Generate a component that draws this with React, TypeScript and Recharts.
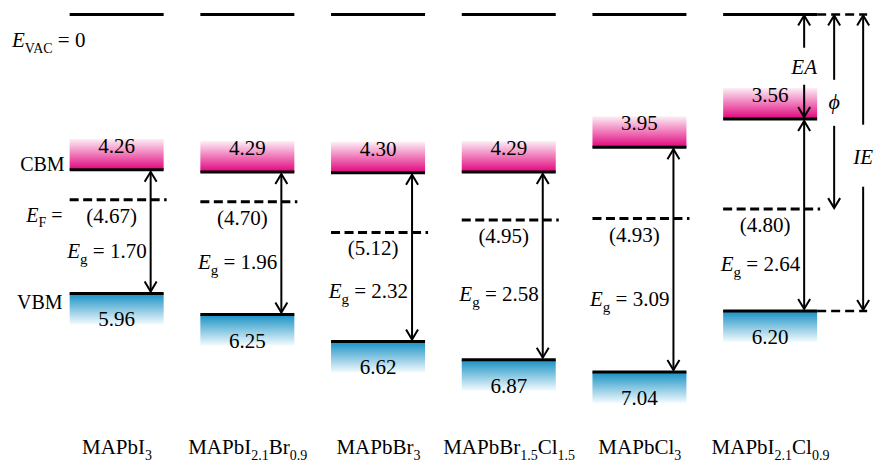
import React from 'react';
import { ComposedChart, Bar, XAxis, YAxis } from 'recharts';

// ---- data (energies in eV below vacuum) ----
const MATERIALS = [
  'MAPbI_{3}',
  'MAPbI_{2.1}Br_{0.9}',
  'MAPbBr_{3}',
  'MAPbBr_{1.5}Cl_{1.5}',
  'MAPbCl_{3}',
  'MAPbI_{2.1}Cl_{0.9}',
];
const CBM = [4.26, 4.29, 4.3, 4.29, 3.95, 3.56];
const VBM = [5.96, 6.25, 6.62, 6.87, 7.04, 6.2];
const FERMI = [4.67, 4.7, 5.12, 4.95, 4.93, 4.8];
const BANDGAP = [1.7, 1.96, 2.32, 2.58, 3.09, 2.64];

// displayed energy window (the vacuum level is drawn at the top edge: axis break)
const Y_TOP = 2.103;
const Y_BOTTOM = 7.7;

const rows = MATERIALS.map((name, i) => ({
  name,
  cbm: CBM[i],
  vbm: VBM[i],
  fermi: FERMI[i],
  eg: BANDGAP[i],
}));

const FONT = '"Liberation Serif", "Times New Roman", serif';
const TS: React.CSSProperties = { fontFamily: FONT };
const BOX_H = 31;

type Part = { t: string; sub: boolean };
function parseSub(s: string): Part[] {
  const parts: Part[] = [];
  const re = /_\{([^}]*)\}/g;
  let last = 0;
  let m: RegExpExecArray | null;
  while ((m = re.exec(s))) {
    if (m.index > last) parts.push({ t: s.slice(last, m.index), sub: false });
    parts.push({ t: m[1], sub: true });
    last = re.lastIndex;
  }
  if (last < s.length) parts.push({ t: s.slice(last), sub: false });
  return parts;
}

function spans(parts: Part[], size: number, subSize: number, shift: number, italicFirst = false) {
  let cur = 0;
  return parts.map((p, i) => {
    const target = p.sub ? shift : 0;
    const dy = target - cur;
    cur = target;
    return (
      <tspan
        key={i}
        dy={dy}
        style={{ fontFamily: FONT, fontSize: p.sub ? subSize : size, fontStyle: italicFirst && i === 0 ? 'italic' : 'normal' }}
      >
        {p.t}
      </tspan>
    );
  });
}

const Arrow = ({ x, y1, y2, up, down }: { x: number; y1: number; y2: number; up?: boolean; down?: boolean }) => (
  <g stroke="#000" strokeWidth={2} fill="none">
    <line x1={x} y1={y1} x2={x} y2={y2} />
    {up && <polyline points={`${x - 6},${y1 + 10} ${x},${y1} ${x + 6},${y1 + 10}`} />}
    {down && <polyline points={`${x - 6},${y2 - 10} ${x},${y2} ${x + 6},${y2 - 10}`} />}
  </g>
);

const T = (p: any) => {
  const { children, size = 20, italic, ...rest } = p;
  return (
    <text {...rest} fill="#000" style={{ fontFamily: FONT, fontSize: size, fontStyle: italic ? 'italic' : 'normal' }}>
      {children}
    </text>
  );
};

const LevelShape = (props: any) => {
  const { x, y, width, height, payload, index } = props;
  const top = Math.min(y, y + height);
  const bot = Math.max(y, y + height);
  const k = (bot - top) / (payload.vbm - payload.cbm);
  const py = (e: number) => top + (e - payload.cbm) * k;
  const cx = x + width / 2;
  const right = x + width;
  const vacY = py(Y_TOP) + 1.5;
  const cY = py(payload.cbm);
  const vY = py(payload.vbm);
  const fY = py(payload.fermi);
  const ax = cx + 34;
  const gC = `gradC${index}`;
  const gV = `gradV${index}`;
  const last = index === MATERIALS.length - 1;
  const first = index === 0;
  const egY = (fY + vY) / 2 + 11;

  return (
    <g>
      <defs>
        <linearGradient id={gC} x1="0" y1="0" x2="0" y2="1">
          <stop offset="0%" stopColor="#FDEFF6" />
          <stop offset="100%" stopColor="#E2037D" />
        </linearGradient>
        <linearGradient id={gV} x1="0" y1="0" x2="0" y2="1">
          <stop offset="0%" stopColor="#1690C4" />
          <stop offset="100%" stopColor="#F4FBFE" />
        </linearGradient>
      </defs>
      <rect x={x} y={cY - BOX_H} width={width} height={BOX_H} fill={`url(#${gC})`} />
      <rect x={x} y={vY} width={width} height={BOX_H} fill={`url(#${gV})`} />
      <line x1={x} x2={right} y1={vacY} y2={vacY} stroke="#000" strokeWidth={3} />
      <line x1={x} x2={right} y1={cY} y2={cY} stroke="#000" strokeWidth={3} />
      <line x1={x} x2={right} y1={vY} y2={vY} stroke="#000" strokeWidth={3} />
      <line x1={x} x2={right + 3} y1={fY} y2={fY} stroke="#000" strokeWidth={3} strokeDasharray="9 4.5" />
      <T x={cx} y={cY - 17} textAnchor="middle" size={21}>{payload.cbm.toFixed(2)}</T>
      <T x={cx} y={vY + 33} textAnchor="middle" size={21}>{payload.vbm.toFixed(2)}</T>
      <T x={cx - 5} y={fY + 23} textAnchor="middle" size={21}>{`(${payload.fermi.toFixed(2)})`}</T>
      <Arrow x={ax} y1={cY + 2} y2={vY - 2} up down />
      <T x={ax - 4} y={egY} textAnchor="end" size={21}>
        {spans([{ t: 'E', sub: false }, { t: 'g', sub: true }, { t: ` = ${payload.eg.toFixed(2)}`, sub: false }], 21, 15, 6, true)}
      </T>
      {first && (
        <g>
          <T x={12} y={vacY + 32}>
            {spans([{ t: 'E', sub: false }, { t: 'VAC', sub: true }, { t: ' = 0', sub: false }], 21, 14, 6, true)}
          </T>
          <T x={x - 5} y={cY + 1} textAnchor="end">CBM</T>
          <T x={x - 7} y={fY + 22} textAnchor="end">
            {spans([{ t: 'E', sub: false }, { t: 'F', sub: true }, { t: ' =', sub: false }], 20, 14, 5, true)}
          </T>
          <T x={x - 7} y={vY + 16} textAnchor="end">VBM</T>
        </g>
      )}
      {last && (
        <g>
          <line x1={right} x2={right + 50} y1={vacY} y2={vacY} stroke="#000" strokeWidth={2.5} strokeDasharray="9 5" />
          <line x1={right} x2={right + 50} y1={vY} y2={vY} stroke="#000" strokeWidth={2.5} strokeDasharray="9 5" />
          {(() => {
            const mEA = (vacY + cY) / 2;
            const mPhi = (vacY + fY) / 2 - 10;
            const mIE = (vacY + vY) / 2 - 6;
            const px = right + 17;
            const ix = right + 46;
            return (
              <g>
                <Arrow x={ax} y1={vacY + 1} y2={mEA - 19} up />
                <Arrow x={ax} y1={mEA + 18} y2={cY - 2} down />
                <T x={ax} y={mEA + 7} textAnchor="middle" size={21} italic>EA</T>
                <Arrow x={px} y1={vacY + 1} y2={mPhi - 22} up />
                <Arrow x={px} y1={mPhi + 24} y2={fY - 1} down />
                <T x={px} y={mPhi + 7} textAnchor="middle" size={22} italic>ϕ</T>
                <Arrow x={ix} y1={vacY + 1} y2={mIE - 32} up />
                <Arrow x={ix} y1={mIE + 30} y2={vY - 1} down />
                <T x={ix} y={mIE + 7} textAnchor="middle" size={21} italic>IE</T>
              </g>
            );
          })()}
        </g>
      )}
    </g>
  );
};

const CatTick = (props: any) => {
  const { x, y, payload } = props;
  return (
    <text x={x} y={y + 26} textAnchor="middle" fill="#000" style={TS}>
      {spans(parseSub(payload.value), 21, 14, 6)}
    </text>
  );
};

export default function App() {
  return (
    <div style={{ position: 'absolute', left: 0, top: 0, background: '#fff' }}>
      <ComposedChart
        width={875}
        height={462}
        data={rows}
        margin={{ top: 13, right: 39.15, bottom: 12, left: 51.65 }}
      >
        <XAxis dataKey="name" type="category" interval={0} axisLine={false} tickLine={false} tick={<CatTick />} height={30} />
        <YAxis hide type="number" reversed domain={[Y_TOP, Y_BOTTOM]} allowDataOverflow />
        <Bar dataKey={(d: any) => [d.cbm, d.vbm]} barSize={94} shape={<LevelShape />} isAnimationActive={false} />
      </ComposedChart>
    </div>
  );
}
